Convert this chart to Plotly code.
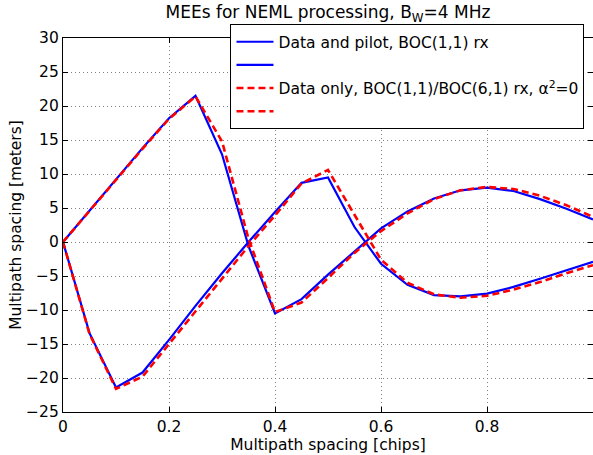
import plotly.graph_objects as go

x_chips = [0.00, 0.05, 0.10, 0.15, 0.20, 0.25, 0.30, 0.35, 0.40, 0.45, 0.50,
           0.55, 0.60, 0.65, 0.70, 0.75, 0.80, 0.85, 0.90, 0.95, 1.00]

pilot_upper = [0, 4.6, 9.2, 13.8, 18.2, 21.5, 12.9, -0.6, -10.5, -8.4, -4.8,
               -1.4, 2.0, 4.5, 6.4, 7.6, 8.0, 7.5, 6.3, 4.9, 3.3]
pilot_lower = [0, -13.4, -21.4, -19.2, -14.4, -9.4, -4.6, 0.0, 4.4, 8.7, 9.5,
               2.2, -3.2, -6.3, -7.8, -8.0, -7.6, -6.6, -5.4, -4.1, -2.9]
data_upper = [0, 4.6, 9.1, 13.7, 18.1, 21.4, 14.8, 0.5, -10.3, -8.9, -5.3,
              -1.6, 1.6, 4.2, 6.3, 7.6, 8.1, 7.8, 6.8, 5.4, 3.7]
data_lower = [0, -13.5, -21.6, -19.8, -15.0, -10.2, -5.3, -0.6, 3.9, 8.6, 10.6,
              3.9, -2.6, -6.0, -7.7, -8.2, -7.9, -7.0, -5.9, -4.6, -3.4]

legend_names = ["Data and pilot, BOC(1,1) rx", " ",
                "Data only, BOC(1,1)/BOC(6,1) rx, \u03b1<sup>2</sup>=0", " "]

title_text = "MEEs for NEML processing, B<sub>W</sub>=4 MHz"
x_label = "Multipath spacing [chips]"
y_label = "Multipath spacing [meters]"

FONT = "DejaVu Sans"

fig = go.Figure()
series = [(pilot_upper, "blue", "solid", 2.2),
          (pilot_lower, "blue", "solid", 2.2),
          (data_upper, "red", "7px,4px", 2.6),
          (data_lower, "red", "7px,4px", 2.6)]
for (vals, col, dash, w), name in zip(series, legend_names):
    fig.add_trace(go.Scatter(x=x_chips, y=vals, mode="lines", name=name,
                             line=dict(color=col, dash=dash, width=w)))

axis_common = dict(showline=True, linecolor="black", linewidth=1.3,
                   mirror="ticks", ticks="inside", ticklen=5, tickcolor="black",
                   showgrid=True, gridcolor="#808080", griddash="1px,3px",
                   gridwidth=1, zeroline=False, automargin=False,
                   tickfont=dict(family=FONT, size=15.5, color="black"))

fig.update_layout(
    width=593, height=455,
    margin=dict(l=63, r=0, t=38, b=43, autoexpand=False),
    paper_bgcolor="white", plot_bgcolor="white",
    font=dict(family=FONT, size=15.5, color="black"),
    title=dict(text=title_text, x=0.5, xref="paper", xanchor="center",
               y=1 - 12 / 455, yref="container", yanchor="middle",
               font=dict(family=FONT, size=17, color="black")),
    xaxis=dict(range=[0, 1], tickmode="array",
               tickvals=[0, 0.2, 0.4, 0.6, 0.8, 1.0],
               ticktext=["0", "0.2", "0.4", "0.6", "0.8", "1"],
               title=dict(text=x_label, standoff=0,
                          font=dict(family=FONT, size=15.5)),
               **axis_common),
    yaxis=dict(range=[-25, 30], dtick=5,
               title=dict(text=y_label, standoff=0,
                          font=dict(family=FONT, size=15.5)),
               **axis_common),
    legend=dict(x=0.316, y=1.037, xanchor="left", yanchor="top",
                bgcolor="white", bordercolor="black", borderwidth=1,
                font=dict(family=FONT, size=15.5, color="black"),
                itemwidth=37, tracegroupgap=0),
    showlegend=True,
)

fig.write_html("out.html", config={"displayModeBar": False},
               post_script="document.body.style.margin='0';"
                           "document.body.style.overflow='hidden';")
